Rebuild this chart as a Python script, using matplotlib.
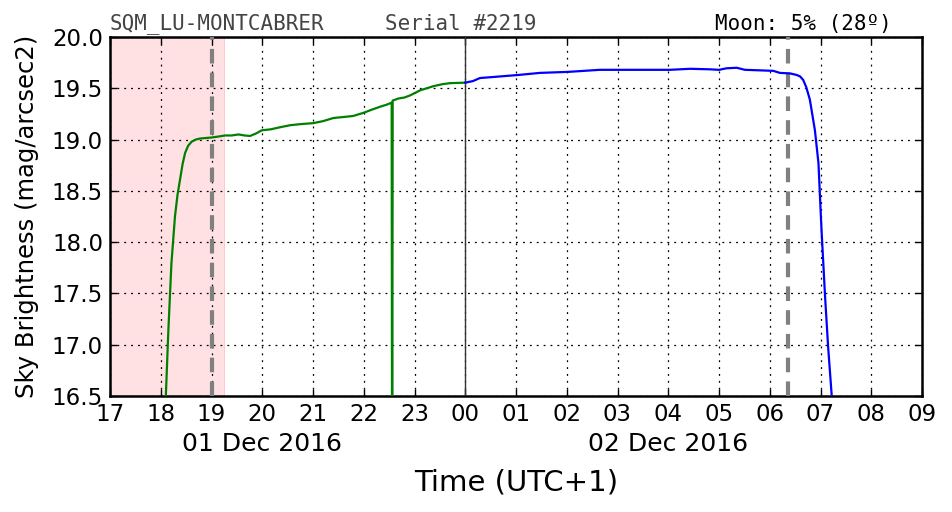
import matplotlib
matplotlib.use('Agg')
import matplotlib.pyplot as plt
import matplotlib.transforms as mtransforms

########################## data ##########################
# time in hours after 00:00 of 01 Dec 2016 (local UTC+1), >24 means 02 Dec
t_dusk = [18.08, 18.10, 18.15, 18.21, 18.28, 18.33, 18.38, 18.43, 18.48, 18.54,
          18.61, 18.69, 18.77, 18.88, 19.00, 19.14, 19.27, 19.40, 19.53, 19.65,
          19.76, 19.88, 19.99, 20.17, 20.35, 20.55, 20.74, 21.00, 21.20, 21.40,
          21.60, 21.79, 21.99, 22.15, 22.32, 22.45, 22.55, 22.56, 22.57, 22.68,
          22.80, 22.91, 23.11, 23.37, 23.55, 23.70, 24.00]
mag_dusk = [16.30, 16.50, 17.14, 17.79, 18.25, 18.46, 18.61, 18.76, 18.87, 18.94,
            18.98, 19.00, 19.01, 19.015, 19.02, 19.03, 19.04, 19.04, 19.05, 19.04,
            19.035, 19.06, 19.09, 19.10, 19.12, 19.14, 19.15, 19.16, 19.18, 19.21,
            19.22, 19.23, 19.26, 19.29, 19.32, 19.34, 19.36, 15.00, 19.38, 19.40,
            19.41, 19.43, 19.48, 19.52, 19.54, 19.55, 19.555]

t_night = [24.00, 24.15, 24.29, 24.55, 25.05, 25.47, 26.03, 26.65, 27.02, 28.03,
           28.43, 28.82, 29.00, 29.15, 29.35, 29.51, 29.80, 30.07, 30.20, 30.40,
           30.53, 30.60, 30.66, 30.72, 30.79, 30.89, 30.96, 30.99, 31.02, 31.09,
           31.15, 31.22, 31.25]
mag_night = [19.555, 19.57, 19.60, 19.61, 19.63, 19.65, 19.66, 19.68, 19.68, 19.68,
             19.69, 19.685, 19.68, 19.695, 19.70, 19.68, 19.675, 19.67, 19.65, 19.645,
             19.63, 19.615, 19.58, 19.51, 19.39, 19.09, 18.77, 18.44, 18.12, 17.47,
             16.98, 16.51, 16.30]

twilight_start, twilight_end = 17.0, 19.27     # shaded part (sun still up)
astro_lines = [19.0, 30.36]                    # dashed grey markers
midnight = 24.0

hours = list(range(17, 34))
hour_labels = ['%02d' % (h % 24) for h in hours]
date_labels = ['01 Dec 2016', '02 Dec 2016']
date_pos = [20, 28]

######################################## plot ################################
fig = plt.figure(figsize=(9.52, 5.12), dpi=100)
ax = fig.add_axes([110/952, 1-396/512, 812/952, 359/512])

ax.axvspan(twilight_start, twilight_end, color='#ffe0e3', lw=0, zorder=0)
ax.axvspan(twilight_end-0.03, twilight_end, color='#ffc8cc', lw=0, zorder=0)
for xv in astro_lines:
    ax.axvline(xv, color='gray', lw=3, ls=(0, (3.5, 2.2)), zorder=3)
ax.axvline(midnight, color='#333333', lw=1, zorder=3)

ax.plot(t_dusk, mag_dusk, color='green', lw=1.6, zorder=4)
ax.plot(t_night, mag_night, color='blue', lw=1.6, zorder=4)

ax.set_xlim(17, 33)
ax.set_ylim(16.5, 20.0)
ax.set_xticks(hours)
ax.set_xticklabels(hour_labels)
yt = [16.5 + 0.5*i for i in range(8)]
ax.set_yticks(yt)
ax.set_yticklabels(['%.1f' % v for v in yt])
ax.tick_params(direction='in', top=True, right=True, length=5, width=1,
               labelsize=16.5, pad=5)
ax.grid(True, color='black', ls=(0, (1.5, 4)), lw=0.9)
for s in ax.spines.values():
    s.set_linewidth(1.8)

trans = mtransforms.blended_transform_factory(ax.transData, ax.transAxes)
for lab, xp in zip(date_labels, date_pos):
    ax.text(xp, -0.134, lab, transform=trans, ha='center', va='center', fontsize=18)

ax.set_xlabel('Time (UTC+1)', fontsize=21, labelpad=31)
ax.set_ylabel('Sky Brightness (mag/arcsec2)', fontsize=17.5, labelpad=9)

ax.text(0.0, 1.008, 'SQM_LU-MONTCABRER', transform=ax.transAxes, family='DejaVu Sans Mono',
        fontsize=15, color='#444444', ha='left', va='bottom')
ax.text(0.339, 1.008, 'Serial #2219', transform=ax.transAxes, family='DejaVu Sans Mono',
        fontsize=15, color='#444444', ha='left', va='bottom')
ax.text(0.963, 1.008, 'Moon: 5% (28º)', transform=ax.transAxes, family='DejaVu Sans Mono',
        fontsize=15, color='black', ha='right', va='bottom')

plt.savefig('out.png', dpi=100)
